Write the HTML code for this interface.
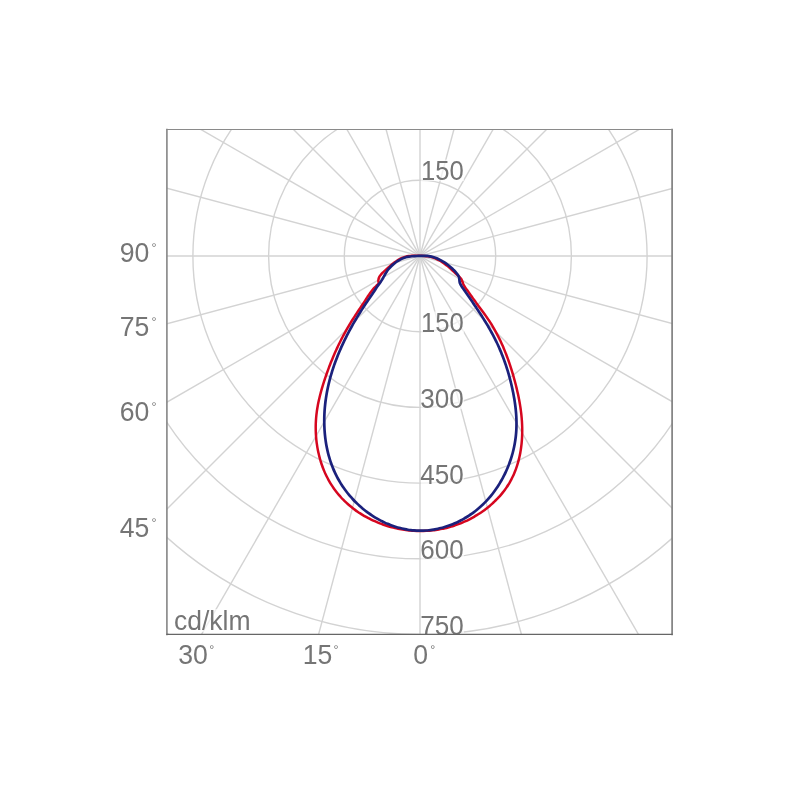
<!DOCTYPE html>
<html><head><meta charset="utf-8"><title>Polar diagram</title>
<style>
html,body{margin:0;padding:0;background:#fff;}
body{width:800px;height:800px;overflow:hidden;font-family:"Liberation Sans",sans-serif;}
svg{display:block;}
text{font-family:"Liberation Sans",sans-serif;font-size:27.3px;fill:#747474;}
</style></head><body>
<svg width="800" height="800" viewBox="0 0 800 800">
<rect width="800" height="800" fill="#fff"/>
<defs><clipPath id="c"><rect x="167.0" y="129.6" width="505.1" height="504.79999999999995"/></clipPath></defs>
<g clip-path="url(#c)">
<g fill="none" stroke="#d3d3d3" stroke-width="1.4">
<circle cx="420.0" cy="256.0" r="75.7"/>
<circle cx="420.0" cy="256.0" r="151.4"/>
<circle cx="420.0" cy="256.0" r="227.1"/>
<circle cx="420.0" cy="256.0" r="302.8"/>
<circle cx="420.0" cy="256.0" r="378.5"/>
<circle cx="420.0" cy="256.0" r="454.2"/>
<line x1="420.0" y1="-444.0" x2="420.0" y2="956.0"/>
<line x1="238.8" y1="-420.1" x2="601.2" y2="932.1"/>
<line x1="70.0" y1="-350.2" x2="770.0" y2="862.2"/>
<line x1="-75.0" y1="-239.0" x2="915.0" y2="751.0"/>
<line x1="-186.2" y1="-94.0" x2="1026.2" y2="606.0"/>
<line x1="-256.1" y1="74.8" x2="1096.1" y2="437.2"/>
<line x1="-280.0" y1="256.0" x2="1120.0" y2="256.0"/>
<line x1="-256.1" y1="437.2" x2="1096.1" y2="74.8"/>
<line x1="-186.2" y1="606.0" x2="1026.2" y2="-94.0"/>
<line x1="-75.0" y1="751.0" x2="915.0" y2="-239.0"/>
<line x1="70.0" y1="862.2" x2="770.0" y2="-350.2"/>
<line x1="238.8" y1="932.1" x2="601.2" y2="-420.1"/>
</g>
<path d="M420.08 531.03C421.13 531.03 422.18 531.02 423.23 531.00C424.27 530.97 425.32 530.93 426.37 530.87C427.41 530.81 428.46 530.74 429.50 530.65C430.54 530.57 431.58 530.46 432.62 530.35C433.66 530.23 434.70 530.10 435.73 529.95C436.77 529.80 437.80 529.64 438.83 529.46C439.86 529.28 440.89 529.09 441.91 528.88C442.93 528.68 443.95 528.45 444.97 528.22C445.99 527.98 447.00 527.73 448.01 527.47C449.02 527.20 450.03 526.92 451.03 526.62C452.03 526.33 453.03 526.02 454.02 525.70C455.01 525.37 456.00 525.03 456.98 524.68C457.97 524.33 458.95 523.96 459.92 523.58C460.89 523.20 461.86 522.80 462.83 522.39C463.79 521.98 464.75 521.56 465.70 521.12C466.65 520.68 467.59 520.23 468.53 519.76C469.47 519.30 470.41 518.82 471.33 518.32C472.26 517.83 473.18 517.32 474.09 516.80C475.00 516.28 475.91 515.74 476.81 515.19C477.71 514.64 478.60 514.08 479.48 513.50C480.37 512.92 481.24 512.33 482.11 511.73C482.98 511.12 483.84 510.51 484.68 509.88C485.53 509.25 486.37 508.60 487.20 507.95C488.03 507.29 488.85 506.62 489.66 505.94C490.47 505.26 491.27 504.56 492.05 503.86C492.84 503.15 493.61 502.43 494.37 501.70C495.14 500.97 495.89 500.23 496.62 499.48C497.36 498.73 498.08 497.96 498.79 497.18C499.50 496.41 500.20 495.62 500.88 494.82C501.56 494.02 502.23 493.21 502.88 492.39C503.53 491.57 504.16 490.74 504.78 489.90C505.40 489.06 506.01 488.20 506.59 487.34C507.18 486.48 507.75 485.60 508.30 484.72C508.86 483.84 509.39 482.95 509.91 482.04C510.42 481.14 510.92 480.23 511.40 479.31C511.88 478.39 512.35 477.46 512.79 476.52C513.24 475.58 513.66 474.63 514.08 473.68C514.49 472.72 514.88 471.76 515.26 470.79C515.63 469.82 515.99 468.84 516.33 467.86C516.68 466.88 517.00 465.89 517.32 464.89C517.63 463.89 517.92 462.89 518.20 461.88C518.48 460.88 518.74 459.86 518.99 458.84C519.24 457.83 519.47 456.80 519.69 455.78C519.91 454.75 520.11 453.72 520.30 452.69C520.48 451.65 520.66 450.61 520.82 449.57C520.98 448.53 521.12 447.49 521.25 446.44C521.38 445.40 521.50 444.35 521.60 443.30C521.71 442.25 521.80 441.20 521.87 440.14C521.95 439.09 522.01 438.04 522.06 436.98C522.12 435.93 522.15 434.87 522.18 433.82C522.20 432.76 522.22 431.71 522.22 430.65C522.22 429.60 522.21 428.55 522.19 427.50C522.16 426.44 522.13 425.39 522.08 424.34C522.04 423.29 521.98 422.25 521.91 421.20C521.85 420.15 521.77 419.11 521.68 418.06C521.59 417.02 521.49 415.98 521.38 414.93C521.27 413.89 521.15 412.85 521.02 411.81C520.90 410.77 520.76 409.73 520.61 408.70C520.46 407.66 520.31 406.63 520.14 405.59C519.98 404.56 519.80 403.52 519.62 402.49C519.44 401.46 519.25 400.43 519.06 399.40C518.86 398.37 518.65 397.34 518.44 396.32C518.23 395.29 518.01 394.27 517.78 393.24C517.56 392.22 517.32 391.19 517.08 390.17C516.85 389.15 516.60 388.13 516.35 387.11C516.10 386.09 515.84 385.07 515.58 384.06C515.31 383.04 515.04 382.02 514.77 381.01C514.50 380.00 514.22 378.98 513.94 377.97C513.65 376.96 513.36 375.95 513.07 374.94C512.78 373.93 512.48 372.92 512.17 371.92C511.87 370.91 511.56 369.91 511.24 368.91C510.93 367.91 510.60 366.91 510.28 365.91C509.95 364.91 509.62 363.92 509.28 362.92C508.94 361.93 508.59 360.94 508.24 359.95C507.89 358.97 507.53 357.98 507.16 357.00C506.80 356.02 506.42 355.04 506.04 354.06C505.67 353.08 505.28 352.11 504.89 351.14C504.49 350.17 504.09 349.20 503.68 348.24C503.28 347.27 502.86 346.31 502.44 345.36C502.02 344.40 501.59 343.45 501.15 342.50C500.71 341.55 500.26 340.60 499.81 339.66C499.36 338.72 498.89 337.78 498.42 336.85C497.95 335.91 497.47 334.98 496.99 334.06C496.50 333.13 496.00 332.21 495.50 331.30C494.99 330.38 494.48 329.47 493.96 328.57C493.43 327.66 492.90 326.76 492.36 325.86C491.82 324.96 491.27 324.07 490.71 323.19C490.15 322.30 489.58 321.42 489.00 320.54C488.43 319.67 487.84 318.80 487.24 317.93C486.64 317.07 486.04 316.21 485.43 315.35C484.81 314.49 484.20 313.64 483.57 312.79C482.95 311.94 482.33 311.09 481.70 310.24C481.07 309.39 480.44 308.55 479.81 307.71C479.18 306.86 478.55 306.02 477.92 305.17C477.29 304.33 476.66 303.48 476.04 302.63C475.41 301.79 474.79 300.94 474.18 300.09C473.57 299.23 472.96 298.38 472.36 297.52C471.76 296.67 471.17 295.80 470.57 294.94C469.98 294.08 469.39 293.22 468.78 292.36C468.17 291.51 467.54 290.66 466.91 289.81C466.29 288.96 465.61 288.14 465.03 287.26C464.45 286.38 463.89 285.50 463.45 284.55C463.00 283.60 462.77 282.54 462.38 281.57C461.98 280.60 461.65 279.60 461.08 278.74C460.51 277.89 459.69 277.17 458.95 276.42C458.20 275.67 457.38 274.98 456.61 274.27C455.83 273.55 455.06 272.85 454.28 272.14C453.51 271.44 452.74 270.73 451.96 270.03C451.19 269.33 450.41 268.63 449.63 267.94C448.84 267.25 448.05 266.56 447.24 265.90C446.43 265.23 445.62 264.58 444.78 263.95C443.94 263.32 443.09 262.70 442.21 262.12C441.33 261.54 440.43 260.98 439.51 260.46C438.60 259.94 437.65 259.44 436.70 259.00C435.75 258.55 434.77 258.14 433.79 257.78C432.81 257.43 431.81 257.11 430.80 256.85C429.79 256.60 428.77 256.40 427.75 256.24C426.72 256.09 425.69 255.99 424.65 255.90C423.61 255.82 422.56 255.78 421.50 255.74C420.45 255.69 419.38 255.67 418.32 255.65C417.26 255.64 416.18 255.62 415.12 255.64C414.05 255.66 412.99 255.69 411.93 255.77C410.88 255.84 409.82 255.94 408.79 256.09C407.76 256.25 406.73 256.43 405.73 256.69C404.73 256.94 403.74 257.24 402.78 257.61C401.82 257.97 400.88 258.41 399.96 258.88C399.03 259.36 398.14 259.89 397.25 260.45C396.37 261.02 395.50 261.63 394.65 262.26C393.80 262.89 392.96 263.56 392.14 264.24C391.31 264.92 390.50 265.62 389.70 266.33C388.89 267.03 388.10 267.75 387.32 268.46C386.53 269.16 385.75 269.86 384.98 270.56C384.22 271.27 383.45 271.95 382.73 272.69C382.01 273.43 381.31 274.17 380.67 275.00C380.04 275.83 379.30 276.72 378.91 277.66C378.53 278.60 378.40 279.68 378.34 280.64C378.28 281.59 378.89 282.52 378.55 283.38C378.22 284.24 377.08 284.99 376.32 285.80C375.55 286.60 374.69 287.40 373.95 288.21C373.21 289.02 372.53 289.85 371.87 290.68C371.22 291.51 370.60 292.34 370.01 293.18C369.41 294.02 368.84 294.87 368.28 295.72C367.72 296.57 367.18 297.43 366.62 298.29C366.07 299.14 365.53 300.00 364.97 300.86C364.41 301.72 363.85 302.59 363.27 303.45C362.70 304.31 362.13 305.18 361.55 306.05C360.97 306.91 360.38 307.78 359.80 308.65C359.22 309.53 358.63 310.40 358.04 311.28C357.46 312.15 356.87 313.03 356.29 313.91C355.71 314.79 355.12 315.68 354.55 316.56C353.97 317.45 353.40 318.34 352.83 319.23C352.26 320.12 351.70 321.02 351.15 321.92C350.59 322.82 350.04 323.72 349.50 324.63C348.96 325.53 348.42 326.44 347.89 327.35C347.36 328.26 346.84 329.18 346.32 330.09C345.81 331.01 345.29 331.93 344.79 332.86C344.28 333.78 343.78 334.70 343.29 335.63C342.80 336.56 342.31 337.49 341.83 338.43C341.35 339.36 340.87 340.30 340.40 341.24C339.93 342.17 339.47 343.12 339.01 344.06C338.55 345.00 338.10 345.95 337.65 346.90C337.20 347.85 336.76 348.80 336.33 349.75C335.89 350.71 335.46 351.66 335.04 352.62C334.61 353.58 334.19 354.54 333.78 355.50C333.37 356.46 332.96 357.43 332.56 358.40C332.15 359.36 331.76 360.33 331.37 361.30C330.97 362.27 330.59 363.24 330.21 364.22C329.83 365.19 329.45 366.17 329.08 367.15C328.71 368.13 328.35 369.11 327.99 370.09C327.63 371.07 327.27 372.05 326.92 373.04C326.57 374.02 326.23 375.01 325.89 376.00C325.55 376.99 325.21 377.97 324.89 378.97C324.56 379.96 324.23 380.95 323.91 381.94C323.59 382.94 323.28 383.93 322.97 384.93C322.67 385.93 322.36 386.93 322.07 387.93C321.78 388.93 321.49 389.93 321.21 390.93C320.93 391.94 320.66 392.94 320.39 393.95C320.13 394.96 319.88 395.97 319.63 396.98C319.38 397.99 319.15 399.01 318.92 400.02C318.69 401.04 318.48 402.06 318.27 403.08C318.06 404.10 317.87 405.12 317.68 406.15C317.50 407.18 317.33 408.20 317.17 409.23C317.01 410.27 316.86 411.30 316.72 412.34C316.59 413.37 316.46 414.41 316.36 415.45C316.25 416.49 316.15 417.54 316.07 418.59C315.99 419.63 315.92 420.68 315.87 421.74C315.82 422.79 315.78 423.84 315.75 424.90C315.73 425.95 315.72 427.01 315.72 428.07C315.73 429.13 315.74 430.19 315.78 431.25C315.81 432.31 315.85 433.37 315.91 434.42C315.98 435.48 316.05 436.54 316.14 437.60C316.23 438.66 316.33 439.72 316.45 440.77C316.57 441.83 316.70 442.88 316.85 443.93C317.00 444.98 317.16 446.03 317.33 447.08C317.51 448.13 317.70 449.17 317.90 450.21C318.11 451.25 318.33 452.29 318.56 453.32C318.80 454.36 319.04 455.39 319.31 456.41C319.57 457.44 319.85 458.46 320.14 459.47C320.43 460.49 320.74 461.50 321.06 462.50C321.38 463.50 321.72 464.50 322.07 465.50C322.42 466.49 322.79 467.47 323.17 468.45C323.55 469.43 323.94 470.40 324.35 471.37C324.76 472.33 325.19 473.29 325.63 474.24C326.07 475.19 326.52 476.13 326.99 477.06C327.46 477.99 327.95 478.91 328.45 479.83C328.94 480.74 329.46 481.65 329.99 482.54C330.52 483.44 331.06 484.32 331.62 485.19C332.18 486.07 332.75 486.93 333.34 487.78C333.93 488.64 334.54 489.48 335.16 490.31C335.78 491.14 336.41 491.95 337.06 492.76C337.70 493.57 338.37 494.36 339.04 495.15C339.72 495.93 340.41 496.70 341.11 497.47C341.81 498.23 342.52 498.98 343.25 499.71C343.98 500.45 344.72 501.18 345.47 501.89C346.22 502.60 346.99 503.30 347.77 503.99C348.54 504.68 349.33 505.36 350.13 506.03C350.93 506.69 351.74 507.35 352.56 507.99C353.38 508.63 354.21 509.26 355.05 509.87C355.89 510.49 356.74 511.09 357.60 511.68C358.47 512.27 359.34 512.85 360.22 513.42C361.10 513.98 361.99 514.54 362.88 515.08C363.78 515.62 364.69 516.14 365.60 516.66C366.52 517.17 367.44 517.67 368.37 518.16C369.30 518.65 370.24 519.12 371.18 519.59C372.13 520.05 373.08 520.50 374.04 520.93C375.00 521.37 375.97 521.79 376.94 522.20C377.91 522.60 378.89 523.00 379.87 523.38C380.86 523.76 381.85 524.13 382.84 524.48C383.84 524.83 384.84 525.17 385.84 525.50C386.85 525.83 387.86 526.14 388.87 526.44C389.89 526.73 390.91 527.02 391.93 527.29C392.95 527.56 393.98 527.81 395.01 528.05C396.03 528.30 397.07 528.52 398.10 528.73C399.14 528.95 400.18 529.15 401.22 529.33C402.26 529.51 403.30 529.68 404.34 529.84C405.39 529.99 406.43 530.13 407.48 530.25C408.53 530.38 409.58 530.49 410.63 530.58C411.67 530.68 412.73 530.76 413.78 530.82C414.83 530.89 415.88 530.94 416.93 530.97C417.98 531.01 419.03 531.03 420.08 531.03Z" fill="none" stroke="#d6061f" stroke-width="2.5" stroke-linejoin="round"/>
<path d="M419.83 530.72C420.83 530.72 421.84 530.71 422.85 530.67C423.86 530.64 424.87 530.58 425.88 530.51C426.89 530.44 427.90 530.34 428.91 530.23C429.92 530.12 430.93 529.99 431.94 529.84C432.94 529.69 433.95 529.53 434.95 529.34C435.96 529.16 436.96 528.96 437.96 528.74C438.95 528.52 439.95 528.28 440.94 528.02C441.94 527.77 442.92 527.50 443.91 527.21C444.89 526.92 445.87 526.61 446.85 526.29C447.82 525.97 448.80 525.63 449.76 525.28C450.72 524.92 451.68 524.55 452.64 524.17C453.59 523.78 454.54 523.38 455.48 522.96C456.42 522.55 457.35 522.12 458.27 521.67C459.20 521.22 460.12 520.76 461.03 520.29C461.94 519.81 462.84 519.32 463.73 518.82C464.62 518.32 465.50 517.80 466.37 517.27C467.25 516.74 468.11 516.19 468.96 515.63C469.82 515.08 470.66 514.51 471.49 513.92C472.32 513.34 473.14 512.74 473.95 512.13C474.76 511.52 475.56 510.90 476.35 510.27C477.13 509.64 477.91 508.99 478.68 508.33C479.44 507.68 480.20 507.01 480.94 506.33C481.69 505.65 482.42 504.96 483.14 504.25C483.86 503.55 484.57 502.84 485.27 502.11C485.98 501.39 486.66 500.66 487.34 499.91C488.02 499.17 488.69 498.41 489.35 497.65C490.00 496.88 490.65 496.11 491.28 495.32C491.92 494.54 492.54 493.75 493.15 492.94C493.76 492.14 494.36 491.33 494.95 490.51C495.54 489.69 496.12 488.86 496.69 488.02C497.26 487.18 497.82 486.34 498.36 485.48C498.91 484.63 499.44 483.76 499.96 482.89C500.49 482.02 501.00 481.15 501.50 480.26C502.00 479.38 502.49 478.48 502.97 477.59C503.45 476.69 503.91 475.78 504.37 474.87C504.82 473.96 505.26 473.04 505.69 472.11C506.12 471.19 506.54 470.26 506.95 469.32C507.36 468.39 507.75 467.45 508.13 466.50C508.51 465.55 508.88 464.60 509.24 463.64C509.60 462.69 509.94 461.73 510.28 460.76C510.61 459.80 510.93 458.83 511.23 457.85C511.54 456.88 511.84 455.90 512.12 454.92C512.40 453.94 512.66 452.96 512.92 451.97C513.17 450.98 513.42 449.99 513.64 449.00C513.87 448.01 514.09 447.01 514.29 446.01C514.49 445.02 514.68 444.02 514.85 443.02C515.02 442.01 515.18 441.01 515.33 440.01C515.48 439.00 515.61 438.00 515.73 436.99C515.85 435.99 515.95 434.98 516.04 433.97C516.13 432.96 516.21 431.95 516.27 430.95C516.33 429.94 516.38 428.93 516.41 427.92C516.45 426.91 516.47 425.90 516.48 424.89C516.49 423.88 516.49 422.87 516.48 421.86C516.46 420.85 516.44 419.84 516.40 418.83C516.36 417.82 516.31 416.81 516.25 415.80C516.19 414.79 516.12 413.78 516.04 412.78C515.96 411.77 515.86 410.76 515.76 409.75C515.66 408.74 515.55 407.73 515.43 406.73C515.30 405.72 515.17 404.71 515.03 403.71C514.89 402.70 514.74 401.70 514.59 400.69C514.43 399.69 514.26 398.68 514.09 397.68C513.92 396.68 513.74 395.68 513.55 394.68C513.36 393.68 513.16 392.68 512.96 391.68C512.76 390.68 512.55 389.68 512.33 388.69C512.11 387.69 511.89 386.70 511.66 385.71C511.43 384.71 511.20 383.72 510.95 382.73C510.71 381.74 510.46 380.75 510.20 379.77C509.95 378.78 509.69 377.80 509.42 376.81C509.15 375.83 508.87 374.85 508.59 373.87C508.30 372.89 508.01 371.92 507.72 370.94C507.42 369.97 507.12 369.00 506.81 368.03C506.50 367.06 506.18 366.09 505.86 365.12C505.53 364.16 505.20 363.20 504.86 362.24C504.52 361.28 504.18 360.32 503.83 359.37C503.48 358.41 503.12 357.46 502.75 356.51C502.39 355.56 502.01 354.62 501.64 353.67C501.26 352.73 500.87 351.79 500.48 350.86C500.08 349.92 499.68 348.99 499.27 348.06C498.87 347.13 498.45 346.20 498.03 345.28C497.61 344.36 497.18 343.44 496.74 342.52C496.31 341.61 495.86 340.70 495.41 339.79C494.96 338.88 494.50 337.98 494.04 337.08C493.58 336.18 493.10 335.28 492.63 334.39C492.15 333.49 491.67 332.60 491.18 331.72C490.69 330.83 490.19 329.95 489.69 329.07C489.19 328.19 488.68 327.31 488.17 326.43C487.66 325.56 487.14 324.69 486.62 323.82C486.09 322.95 485.57 322.08 485.04 321.22C484.50 320.36 483.97 319.49 483.43 318.64C482.89 317.78 482.34 316.92 481.80 316.06C481.25 315.21 480.70 314.36 480.14 313.50C479.59 312.65 479.03 311.80 478.47 310.96C477.91 310.11 477.35 309.26 476.78 308.42C476.21 307.57 475.65 306.73 475.08 305.89C474.50 305.05 473.93 304.21 473.36 303.37C472.78 302.53 472.21 301.69 471.63 300.85C471.05 300.01 470.47 299.18 469.89 298.34C469.31 297.50 468.73 296.67 468.15 295.83C467.57 295.00 466.99 294.17 466.41 293.33C465.83 292.50 465.24 291.66 464.66 290.83C464.08 289.99 463.50 289.16 462.93 288.31C462.37 287.47 461.79 286.62 461.28 285.74C460.78 284.86 460.21 283.98 459.89 283.04C459.58 282.10 459.55 281.09 459.40 280.10C459.24 279.12 459.28 278.08 458.98 277.13C458.68 276.18 458.15 275.27 457.61 274.42C457.06 273.58 456.39 272.80 455.71 272.03C455.04 271.27 454.30 270.56 453.57 269.85C452.83 269.14 452.08 268.45 451.32 267.77C450.55 267.09 449.77 266.43 448.98 265.79C448.19 265.15 447.38 264.52 446.56 263.93C445.74 263.33 444.91 262.75 444.05 262.20C443.20 261.65 442.34 261.12 441.45 260.62C440.57 260.13 439.67 259.65 438.76 259.22C437.84 258.78 436.91 258.37 435.96 258.00C435.02 257.63 434.05 257.28 433.07 257.00C432.10 256.72 431.11 256.47 430.11 256.30C429.11 256.12 428.10 256.02 427.09 255.94C426.08 255.86 425.06 255.85 424.04 255.85C423.02 255.84 422.00 255.87 420.97 255.89C419.95 255.91 418.93 255.93 417.90 255.96C416.88 255.99 415.86 256.01 414.85 256.06C413.83 256.11 412.82 256.16 411.81 256.26C410.81 256.36 409.81 256.48 408.82 256.65C407.83 256.82 406.85 257.02 405.88 257.29C404.91 257.56 403.95 257.88 403.01 258.26C402.06 258.65 401.13 259.10 400.22 259.59C399.31 260.08 398.42 260.62 397.55 261.18C396.69 261.74 395.84 262.33 395.03 262.95C394.22 263.56 393.43 264.20 392.68 264.87C391.92 265.55 391.19 266.24 390.50 266.97C389.80 267.70 389.14 268.45 388.50 269.23C387.87 270.01 387.27 270.83 386.71 271.66C386.14 272.50 385.62 273.38 385.11 274.26C384.60 275.15 384.13 276.06 383.63 276.96C383.13 277.86 382.66 278.77 382.13 279.64C381.61 280.51 381.06 281.37 380.48 282.20C379.90 283.02 379.25 283.79 378.65 284.60C378.05 285.42 377.46 286.25 376.89 287.09C376.32 287.94 375.79 288.82 375.24 289.68C374.68 290.53 374.12 291.38 373.56 292.23C373.00 293.08 372.43 293.91 371.86 294.75C371.29 295.59 370.71 296.42 370.14 297.25C369.56 298.08 368.99 298.91 368.42 299.75C367.85 300.58 367.28 301.42 366.71 302.26C366.15 303.10 365.58 303.94 365.02 304.79C364.46 305.63 363.91 306.48 363.35 307.33C362.80 308.18 362.25 309.04 361.70 309.89C361.15 310.75 360.61 311.61 360.07 312.47C359.53 313.33 358.99 314.20 358.46 315.06C357.93 315.93 357.40 316.80 356.87 317.67C356.35 318.55 355.83 319.42 355.31 320.30C354.79 321.18 354.28 322.06 353.77 322.94C353.26 323.82 352.76 324.71 352.26 325.60C351.76 326.49 351.26 327.38 350.77 328.27C350.28 329.16 349.80 330.06 349.32 330.96C348.84 331.86 348.36 332.76 347.89 333.66C347.42 334.56 346.95 335.47 346.49 336.38C346.03 337.29 345.58 338.20 345.13 339.11C344.68 340.03 344.23 340.94 343.79 341.86C343.35 342.78 342.92 343.70 342.49 344.62C342.07 345.55 341.64 346.47 341.23 347.40C340.81 348.33 340.40 349.26 340.00 350.19C339.60 351.13 339.20 352.06 338.81 353.00C338.42 353.94 338.04 354.88 337.66 355.82C337.28 356.76 336.91 357.71 336.54 358.65C336.18 359.60 335.82 360.55 335.47 361.50C335.12 362.45 334.78 363.41 334.44 364.37C334.10 365.32 333.78 366.28 333.45 367.24C333.13 368.20 332.82 369.17 332.51 370.13C332.20 371.10 331.90 372.06 331.61 373.03C331.32 374.00 331.03 374.98 330.76 375.95C330.48 376.93 330.21 377.90 329.95 378.88C329.69 379.86 329.44 380.84 329.19 381.82C328.95 382.81 328.71 383.79 328.49 384.78C328.26 385.77 328.04 386.76 327.83 387.75C327.62 388.74 327.42 389.73 327.22 390.73C327.03 391.73 326.85 392.72 326.67 393.72C326.50 394.72 326.33 395.73 326.17 396.73C326.02 397.74 325.87 398.74 325.73 399.75C325.59 400.76 325.46 401.77 325.34 402.78C325.22 403.79 325.11 404.81 325.01 405.82C324.91 406.84 324.82 407.85 324.74 408.87C324.66 409.89 324.59 410.91 324.53 411.93C324.47 412.95 324.42 413.97 324.38 414.99C324.34 416.01 324.31 417.03 324.29 418.05C324.27 419.07 324.26 420.10 324.26 421.12C324.26 422.14 324.27 423.16 324.30 424.18C324.32 425.20 324.35 426.22 324.40 427.24C324.44 428.26 324.50 429.28 324.56 430.29C324.63 431.31 324.71 432.33 324.80 433.34C324.89 434.35 324.99 435.37 325.10 436.38C325.21 437.39 325.33 438.40 325.47 439.40C325.60 440.41 325.75 441.42 325.91 442.42C326.06 443.42 326.23 444.42 326.42 445.42C326.60 446.42 326.79 447.41 327.00 448.40C327.21 449.39 327.42 450.38 327.66 451.36C327.89 452.35 328.13 453.33 328.38 454.31C328.64 455.28 328.91 456.26 329.19 457.23C329.47 458.20 329.76 459.16 330.07 460.12C330.38 461.08 330.70 462.04 331.03 462.99C331.36 463.94 331.71 464.89 332.06 465.83C332.42 466.77 332.79 467.71 333.18 468.64C333.57 469.57 333.96 470.50 334.38 471.42C334.79 472.34 335.21 473.26 335.65 474.16C336.09 475.07 336.55 475.98 337.01 476.87C337.48 477.77 337.96 478.66 338.46 479.54C338.95 480.42 339.46 481.30 339.98 482.17C340.51 483.04 341.04 483.90 341.59 484.76C342.14 485.61 342.71 486.46 343.28 487.30C343.86 488.14 344.45 488.97 345.05 489.79C345.66 490.62 346.27 491.43 346.90 492.24C347.53 493.04 348.17 493.84 348.82 494.63C349.47 495.42 350.13 496.20 350.81 496.97C351.48 497.74 352.17 498.50 352.86 499.25C353.56 500.00 354.27 500.74 354.99 501.47C355.71 502.20 356.44 502.92 357.18 503.63C357.92 504.34 358.67 505.04 359.43 505.73C360.19 506.41 360.96 507.09 361.74 507.76C362.51 508.42 363.30 509.07 364.10 509.72C364.90 510.36 365.71 510.99 366.52 511.60C367.34 512.22 368.16 512.83 369.00 513.42C369.83 514.01 370.67 514.59 371.52 515.16C372.37 515.72 373.23 516.28 374.09 516.82C374.96 517.36 375.83 517.88 376.71 518.40C377.59 518.91 378.48 519.41 379.37 519.89C380.26 520.38 381.16 520.85 382.07 521.30C382.98 521.76 383.89 522.20 384.81 522.62C385.73 523.05 386.65 523.46 387.59 523.85C388.52 524.25 389.45 524.63 390.39 524.99C391.34 525.36 392.28 525.70 393.23 526.03C394.19 526.37 395.14 526.68 396.10 526.98C397.06 527.28 398.03 527.56 399.00 527.82C399.97 528.09 400.94 528.33 401.92 528.56C402.90 528.79 403.88 529.01 404.86 529.20C405.85 529.39 406.84 529.57 407.83 529.73C408.82 529.89 409.81 530.03 410.81 530.15C411.80 530.27 412.80 530.37 413.80 530.45C414.80 530.53 415.80 530.60 416.81 530.64C417.81 530.69 418.82 530.71 419.83 530.72Z" fill="none" stroke="#1b217c" stroke-width="2.7" stroke-linejoin="round"/>
<g opacity="0.99">
<rect x="421.0" y="159.6" width="43.0" height="21.5" fill="#fff" fill-opacity="0.65"/>
<text transform="translate(420.90 180.10) scale(0.940 1)" text-anchor="start">150</text>
<rect x="421.0" y="311.5" width="43.0" height="21.5" fill="#fff" fill-opacity="0.65"/>
<text transform="translate(420.90 332.00) scale(0.940 1)" text-anchor="start">150</text>
<rect x="421.0" y="387.7" width="43.0" height="21.5" fill="#fff" fill-opacity="0.65"/>
<text transform="translate(420.20 408.20) scale(0.955 1)" text-anchor="start">300</text>
<rect x="421.0" y="463.3" width="43.0" height="21.5" fill="#fff" fill-opacity="0.65"/>
<text transform="translate(420.20 483.80) scale(0.955 1)" text-anchor="start">450</text>
<rect x="421.0" y="538.5" width="43.0" height="21.5" fill="#fff" fill-opacity="0.65"/>
<text transform="translate(420.20 559.00) scale(0.955 1)" text-anchor="start">600</text>
<rect x="421.0" y="614.5" width="43.0" height="21.5" fill="#fff" fill-opacity="0.65"/>
<text transform="translate(420.20 635.00) scale(0.955 1)" text-anchor="start">750</text>
<rect x="172.0" y="609.0" width="79.0" height="23.0" fill="#fff" fill-opacity="0.65"/>
<text transform="translate(173.90 630.20) scale(0.972 1)" text-anchor="start">cd/klm</text>
</g>
</g>
<g stroke-linecap="square">
<line x1="166.9" y1="129.5" x2="166.9" y2="634.4" stroke="#858585" stroke-width="1.6"/>
<line x1="672.1" y1="129.5" x2="672.1" y2="634.4" stroke="#808080" stroke-width="1.7"/>
<line x1="166.9" y1="129.5" x2="672.1" y2="129.5" stroke="#8a8a8a" stroke-width="1"/>
<line x1="166.9" y1="634.4" x2="672.1" y2="634.4" stroke="#666" stroke-width="1.1"/>
</g>
<g opacity="0.99">
<text transform="translate(149.30 262.20) scale(0.975 1)" text-anchor="end">90</text>
<text x="154.10" y="251.75" text-anchor="middle" style="font-size:12.5px">°</text>
<text transform="translate(149.30 335.90) scale(0.975 1)" text-anchor="end">75</text>
<text x="154.10" y="325.65" text-anchor="middle" style="font-size:12.5px">°</text>
<text transform="translate(149.30 421.20) scale(0.975 1)" text-anchor="end">60</text>
<text x="154.10" y="410.85" text-anchor="middle" style="font-size:12.5px">°</text>
<text transform="translate(149.30 537.20) scale(0.975 1)" text-anchor="end">45</text>
<text x="154.10" y="526.85" text-anchor="middle" style="font-size:12.5px">°</text>
<text transform="translate(207.90 663.80) scale(0.975 1)" text-anchor="end">30</text>
<text x="211.70" y="653.95" text-anchor="middle" style="font-size:12.5px">°</text>
<text transform="translate(332.30 663.80) scale(0.975 1)" text-anchor="end">15</text>
<text x="336.10" y="653.95" text-anchor="middle" style="font-size:12.5px">°</text>
<text transform="translate(428.00 663.80) scale(0.975 1)" text-anchor="end">0</text>
<text x="432.80" y="653.95" text-anchor="middle" style="font-size:12.5px">°</text>
</g>
</svg>
</body></html>
